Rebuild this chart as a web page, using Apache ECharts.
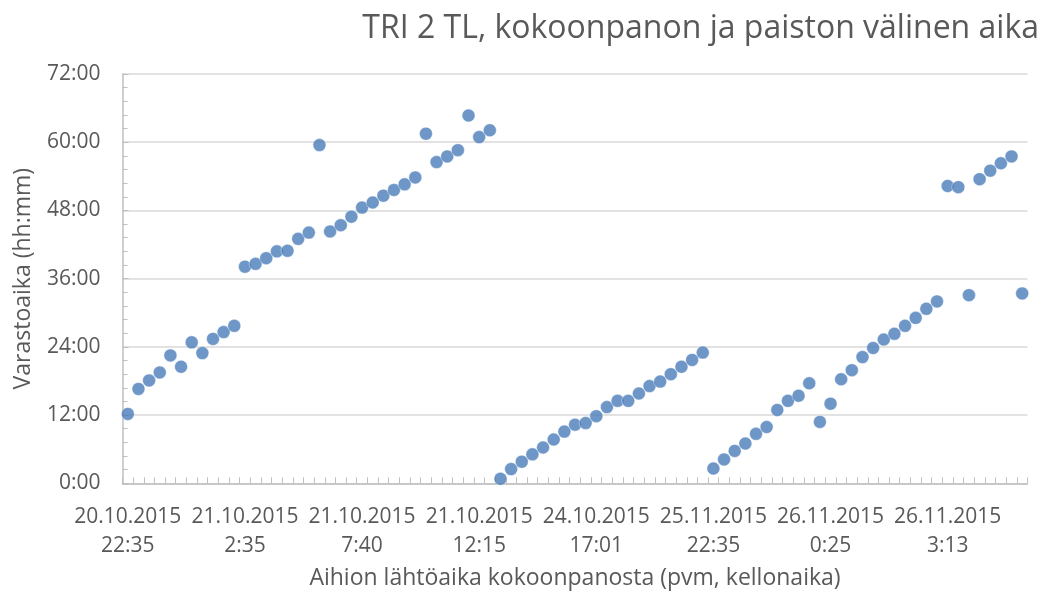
<!DOCTYPE html>
<html>
<head>
<meta charset="utf-8">
<script src="https://cdn.jsdelivr.net/npm/echarts@6/dist/echarts.min.js"></script>
<style>
html,body{margin:0;padding:0;background:#fff;}
#chart{width:1048px;height:596px;}
</style>
</head>
<body>
<div id="chart"></div>
<script>
// Tick labels shown every 11th category (index 0, 11, 22, ...)
var tickLabels = [
  "20.10.2015\n22:35", "21.10.2015\n2:35", "21.10.2015\n7:40", "21.10.2015\n12:15",
  "24.10.2015\n17:01", "25.11.2015\n22:35", "26.11.2015\n0:25", "26.11.2015\n3:13"
];
var labelEvery = 11;

// Storage time (hours) per blank, in order of departure from assembly
var storageHours = [
  12.2, 16.6, 18.1, 19.5, 22.5, 20.5, 24.8, 22.9, 25.4, 26.6, 27.7,
  38.1, 38.6, 39.6, 40.8, 40.9, 43.0, 44.1, 59.5, 44.3, 45.4, 46.9,
  48.5, 49.4, 50.6, 51.6, 52.6, 53.8, 61.5, 56.5, 57.5, 58.6, 64.7,
  60.9, 62.1, 0.8, 2.5, 3.8, 5.1, 6.3, 7.7, 9.1, 10.3, 10.6,
  11.8, 13.4, 14.5, 14.5, 15.8, 17.1, 17.9, 19.2, 20.5, 21.7, 23.0,
  2.6, 4.2, 5.7, 7.0, 8.7, 9.9, 12.9, 14.5, 15.4, 17.6, 10.8,
  14.0, 18.3, 19.9, 22.2, 23.8, 25.3, 26.3, 27.7, 29.1, 30.7, 32.0,
  52.3, 52.1, 33.1, 53.5, 55.0, 56.3, 57.5, 33.4
];

var categories = storageHours.map(function (_, i) { return String(i + 1); });

var textColor = '#595959';
var font = '"Open Sans", sans-serif';

var chart = echarts.init(document.getElementById('chart'), null, {renderer: 'canvas'});
chart.setOption({
  animation: false,
  title: {
    text: 'TRI 2 TL, kokoonpanon ja paiston välinen aika',
    right: 4, top: 8,
    textStyle: {fontFamily: font, fontSize: 32, fontWeight: 'normal', color: textColor}
  },
  grid: {left: 122.5, right: 20.5, top: 74, bottom: 112.7, containLabel: false},
  xAxis: {
    type: 'category',
    data: categories,
    boundaryGap: true,
    name: 'Aihion lähtöaika kokoonpanosta (pvm, kellonaika)',
    nameLocation: 'middle',
    nameGap: 84,
    nameTextStyle: {fontFamily: font, fontSize: 23, color: textColor},
    axisLine: {lineStyle: {color: '#bfbfbf', width: 1.5}},
    axisTick: {show: true, inside: true, length: 6, interval: 0, lineStyle: {color: '#bfbfbf', width: 1}},
    axisLabel: {
      interval: labelEvery - 1,
      margin: 19,
      fontFamily: font, fontSize: 21, color: textColor, lineHeight: 29,
      formatter: function (v, i) { return tickLabels[Math.round(i / labelEvery)] || ''; }
    },
    splitLine: {show: false}
  },
  yAxis: {
    type: 'value',
    min: 0, max: 72, interval: 12,
    name: 'Varastoaika (hh:mm)',
    nameLocation: 'middle',
    nameGap: 88,
    nameTextStyle: {fontFamily: font, fontSize: 23, color: textColor},
    axisLine: {show: true, lineStyle: {color: '#bfbfbf', width: 1.5}},
    axisTick: {show: true, inside: true, length: 6, lineStyle: {color: '#bfbfbf'}},
    minorTick: {show: true, splitNumber: 5, length: 5, lineStyle: {color: '#bfbfbf'}},
    axisLabel: {
      margin: 22, fontFamily: font, fontSize: 21, color: textColor,
      formatter: function (v) { return v + ':00'; }
    },
    splitLine: {show: true, lineStyle: {color: '#d9d9d9', width: 1.5}}
  },
  series: [{
    type: 'scatter',
    data: storageHours,
    symbol: 'circle',
    symbolSize: 13,
    itemStyle: {color: '#4a7dba', borderColor: '#ffffff', borderWidth: 0.5}
  }]
});
</script>
</body>
</html>
